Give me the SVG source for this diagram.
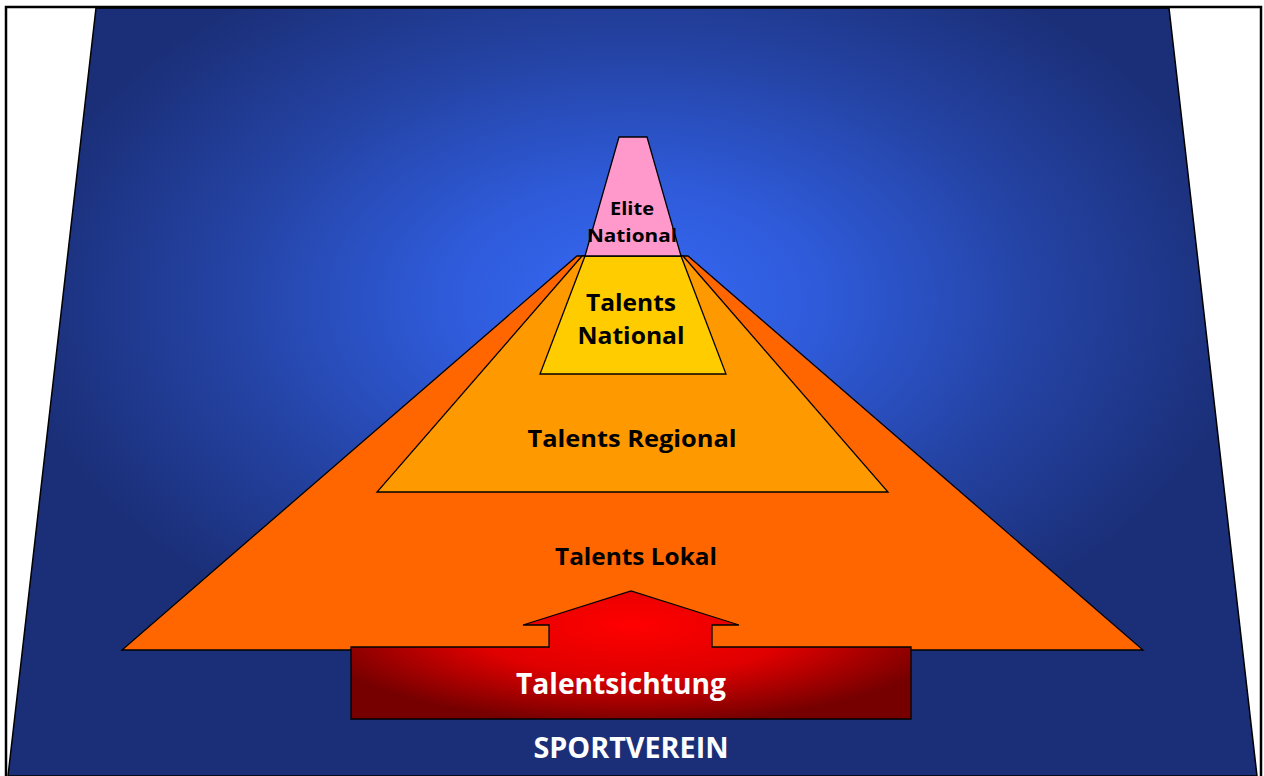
<svg xmlns="http://www.w3.org/2000/svg" width="1264" height="776" viewBox="0 0 1264 776">
<defs>
<radialGradient id="bg" gradientUnits="userSpaceOnUse" cx="632" cy="300" r="620" gradientTransform="translate(0,300) scale(1,0.62) translate(0,-300)">
<stop offset="0" stop-color="#3569F5"/>
<stop offset="0.3" stop-color="#2F5BDA"/>
<stop offset="0.65" stop-color="#2443A4"/>
<stop offset="1" stop-color="#1B2F78"/>
</radialGradient>
<radialGradient id="red" gradientUnits="userSpaceOnUse" cx="631" cy="625" r="330" gradientTransform="translate(631,625) scale(1,0.3) translate(-631,-625)">
<stop offset="0" stop-color="#FF0000"/>
<stop offset="0.5" stop-color="#E00000"/>
<stop offset="1" stop-color="#760000"/>
</radialGradient>
<style>
.s{stroke:#000;stroke-width:1.3;stroke-linejoin:miter}
.t{font-family:"Open Sans","Noto Sans","DejaVu Sans",sans-serif;font-weight:bold;text-anchor:middle}
</style>
</defs>
<rect x="0" y="0" width="1264" height="776" fill="#fff"/>
<g id="background">
<polygon points="96,8 1169,8 1257,776 8,776" fill="url(#bg)" stroke="#000" stroke-width="1.5"/>
</g>
<rect x="6" y="7" width="1255" height="775" fill="none" stroke="#000" stroke-width="2.5"/>
<g id="lokal">
<polygon class="s" points="577,256 688,256 1143,650 122,650" fill="#FF6600"/>
<text class="t" x="636" y="565" font-size="23" textLength="162" lengthAdjust="spacingAndGlyphs">Talents Lokal</text>
</g>
<g id="regional">
<polygon class="s" points="582,256 683,256 888,492 377,492" fill="#FF9900"/>
<text class="t" x="632" y="447" font-size="24" textLength="209" lengthAdjust="spacingAndGlyphs">Talents Regional</text>
</g>
<g id="national">
<polygon class="s" points="585,256 681,256 726,374 540,374" fill="#FFCC00"/>
<text class="t" x="631" y="311" font-size="24" textLength="90" lengthAdjust="spacingAndGlyphs">Talents</text>
<text class="t" x="631" y="344" font-size="24" textLength="107" lengthAdjust="spacingAndGlyphs">National</text>
</g>
<g id="elite">
<polygon class="s" points="619,137 647,137 681,256 585,256" fill="#FF99CC"/>
<text class="t" x="632" y="215" font-size="18" textLength="44" lengthAdjust="spacingAndGlyphs">Elite</text>
<text class="t" x="632" y="242" font-size="18" textLength="90" lengthAdjust="spacingAndGlyphs">National</text>
</g>
<g id="talentsichtung">
<polygon class="s" points="351,647 549,647 549,625 523,625 631,591 739,625 712,625 712,647 911,647 911,719 351,719" fill="url(#red)"/>
<text class="t" x="621" y="694" font-size="28" fill="#fff" textLength="210" lengthAdjust="spacingAndGlyphs">Talentsichtung</text>
</g>
<g id="sportverein">
<text class="t" x="631" y="758" font-size="28" fill="#fff" textLength="195" lengthAdjust="spacingAndGlyphs">SPORTVEREIN</text>
</g>
<g id="connectors"></g>
</svg>
